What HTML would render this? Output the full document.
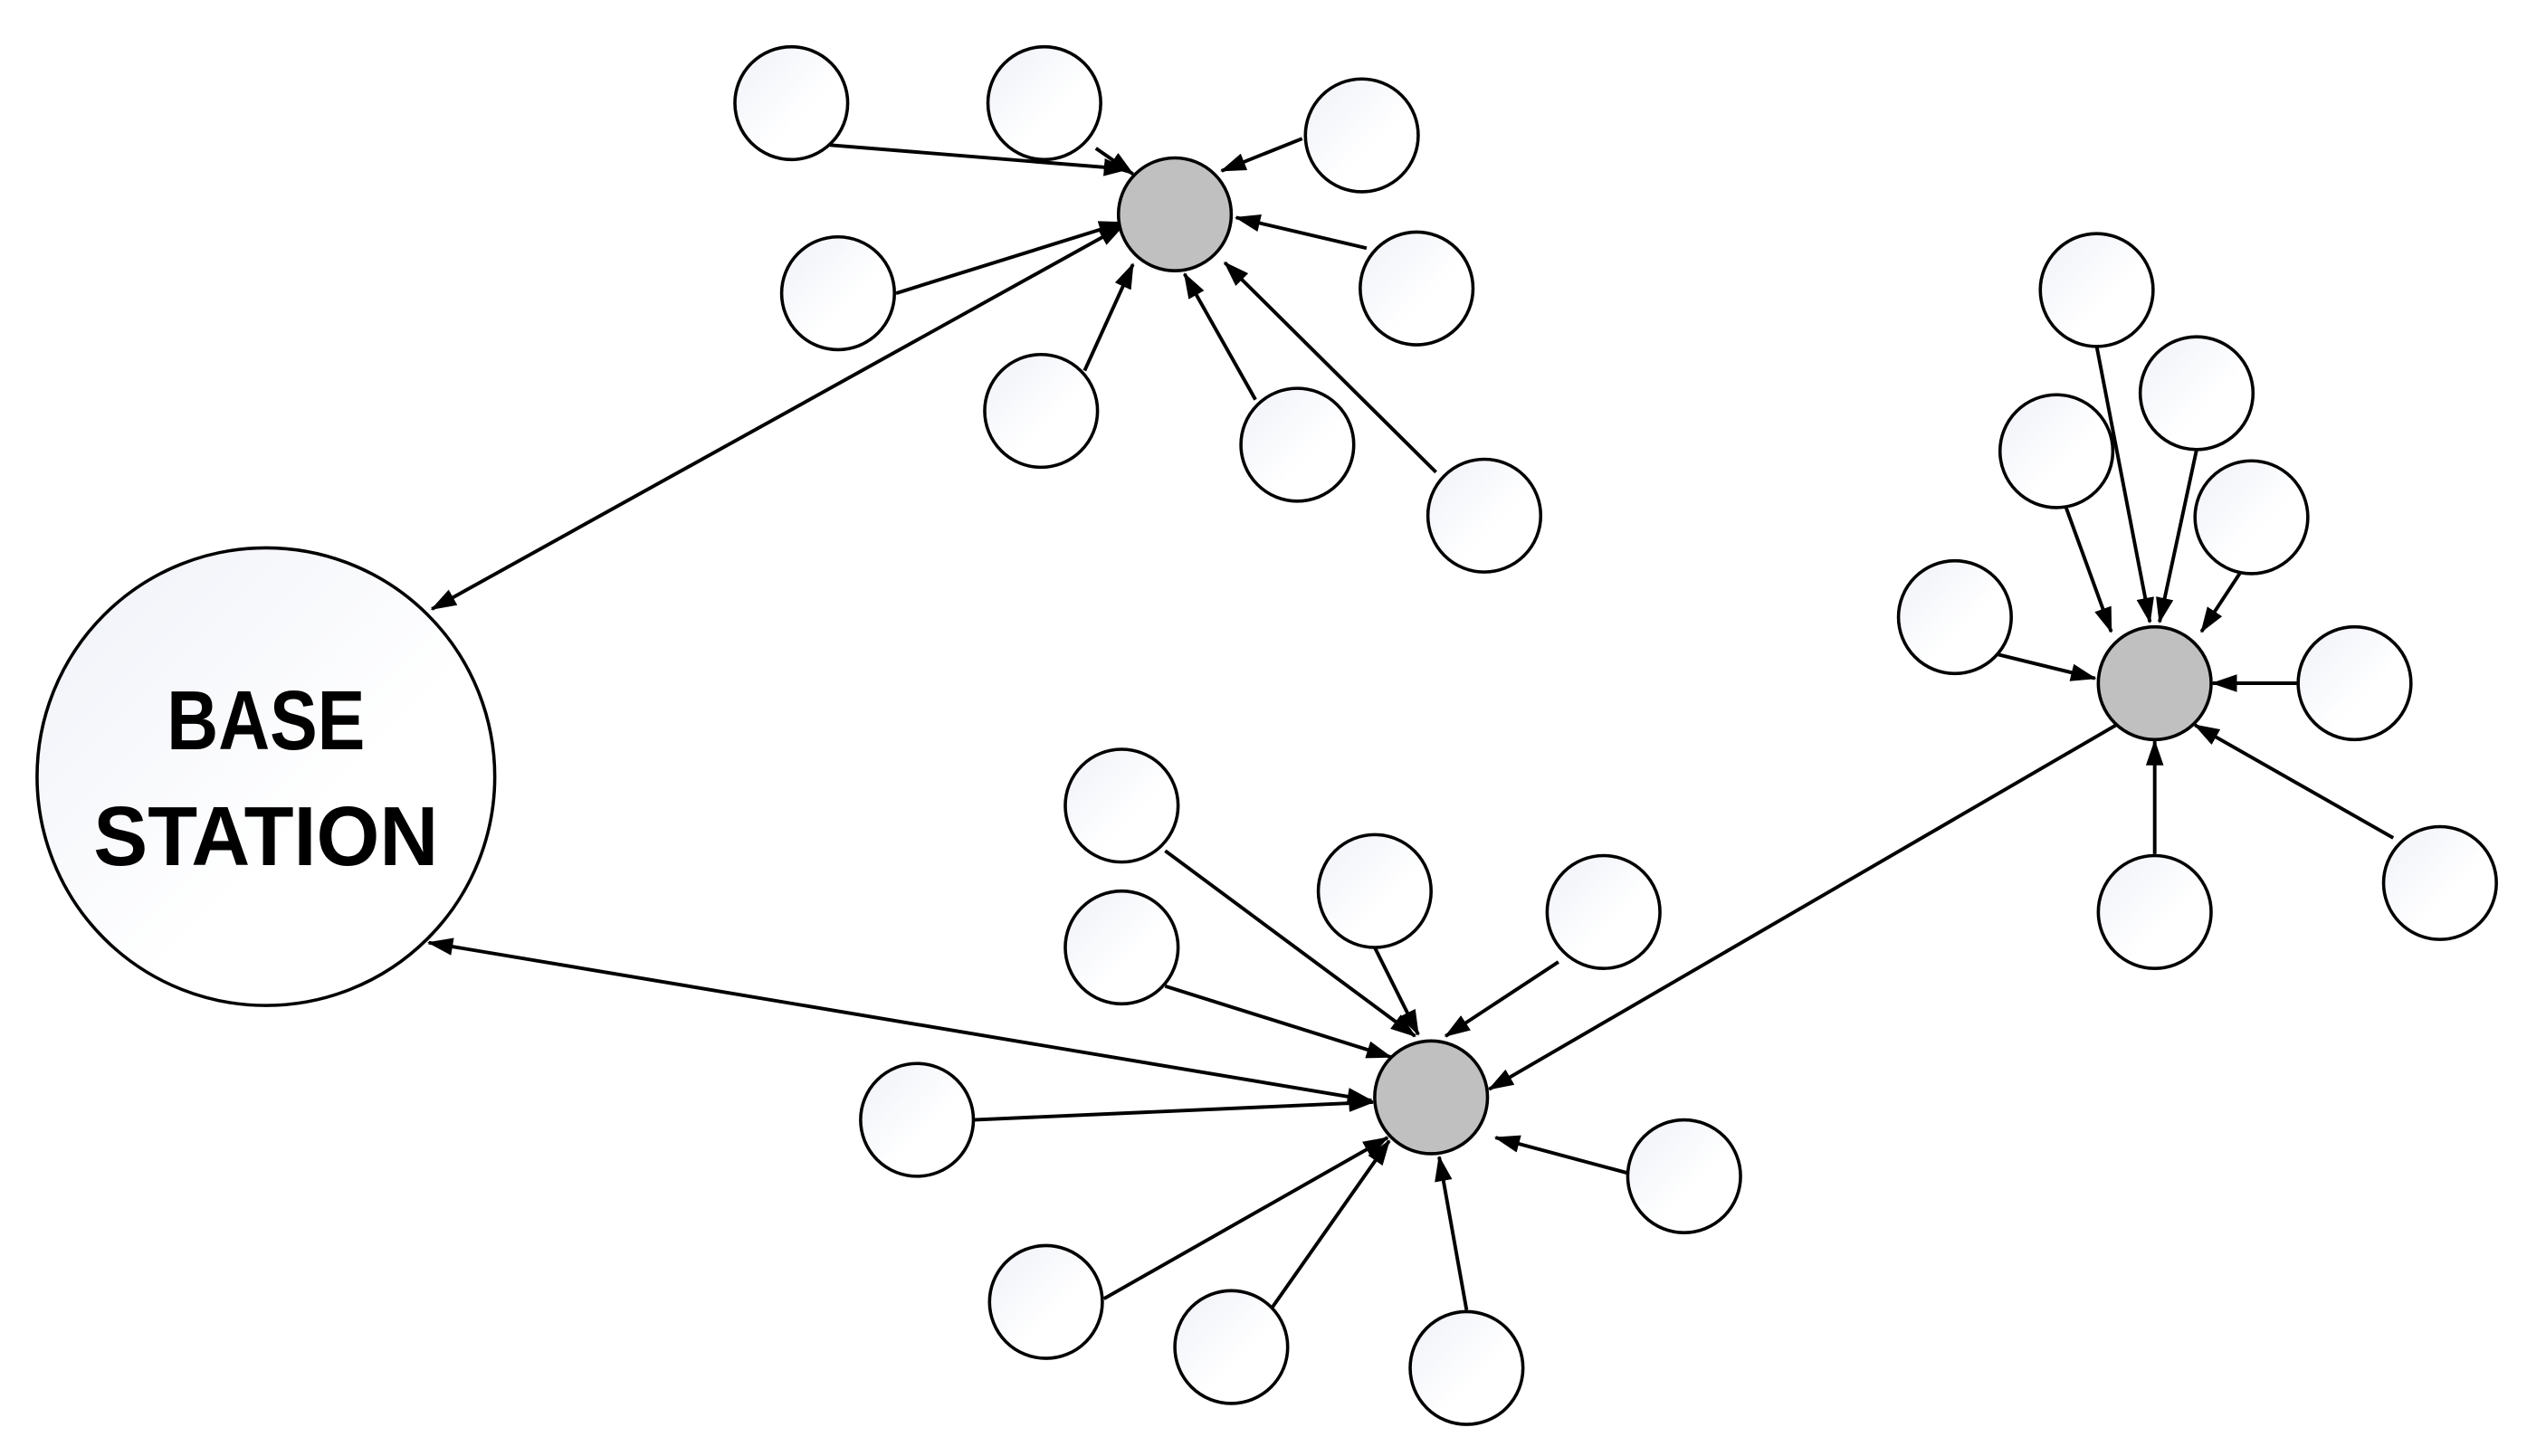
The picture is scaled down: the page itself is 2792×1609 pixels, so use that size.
<!DOCTYPE html>
<html><head><meta charset="utf-8"><style>html,body{margin:0;padding:0;background:#fff}svg{display:block}</style></head>
<body>
<svg id="s" xmlns="http://www.w3.org/2000/svg" width="2792" height="1609" viewBox="0 0 1568 903.6">
<defs>
<linearGradient id="g" x1="0" y1="0" x2="1" y2="1"><stop offset="0" stop-color="#eef1f8"/><stop offset="0.6" stop-color="#ffffff"/><stop offset="1" stop-color="#ffffff"/></linearGradient>
<marker id="a" viewBox="0 0 16 11" refX="15" refY="5.5" markerWidth="16" markerHeight="11" markerUnits="userSpaceOnUse" orient="auto-start-reverse"><path d="M0,0 L16,5.5 L0,11 z" fill="#000"/></marker>
</defs>
<g id="lines" stroke="#000" stroke-width="2.2" fill="none"></g>
<g id="nodes" stroke="#000" stroke-width="2"></g>
<text x="165" y="465" font-family="Liberation Sans, sans-serif" font-weight="bold" font-size="52" text-anchor="middle" textLength="123" lengthAdjust="spacingAndGlyphs">BASE</text>
<text x="165" y="537" font-family="Liberation Sans, sans-serif" font-weight="bold" font-size="52" text-anchor="middle" textLength="214" lengthAdjust="spacingAndGlyphs">STATION</text>
</svg>
<script>
var NS="http://www.w3.org/2000/svg";
var L=document.getElementById('lines'),N=document.getElementById('nodes');
var r=35,R=142,base=[165,482];
var hubs=[[729,133],[1337,424],[888,681]];
var leaves=[[491,64],[648,64],[845,84],[520,182],[879,179],[646,255],[805,276],[921,320],
[1301,180],[1363,244],[1276,280],[1397,321],[1213,383],[1461,424],[1514,548],[1337,566],
[696,500],[853,553],[995,566],[696,588],[569,695],[1045,730],[649,808],[764,836],[910,849]];
var E=[
[515,90,700,105,0],[680,92,703,108,0],[808,86,758,106,0],[556,182,697,138,0],[268,378,697,140,1],
[848,154,767,135,0],[673,230,703,164,0],[779,248,735,170,0],[891,293,760,163,0],
[1301,215,1334,386,0],[1363,279,1340,386,0],[1282,315,1310,392,0],[1391,354,1366,392,0],
[1239,406,1300,421,0],[1426,424,1373,424,0],[1485,520,1362,450,0],[1337,530,1337,460,0],
[1313,450,924,676,0],
[723,528,878,643,0],[853,588,880,642,0],[967,597,897,643,0],[723,612,863,656,0],
[266,585,851,683,1],[604,695,852,684,0],[1010,728,928,706,0],[685,806,861,706,0],
[789,812,862,708,0],[910,813,893,718,0]];
E.forEach(function(e){var l=document.createElementNS(NS,'line');
l.setAttribute('x1',e[0]);l.setAttribute('y1',e[1]);l.setAttribute('x2',e[2]);l.setAttribute('y2',e[3]);
l.setAttribute('marker-end','url(#a)');if(e[4])l.setAttribute('marker-start','url(#a)');L.appendChild(l);});
function circ(c,rr,f){var e=document.createElementNS(NS,'circle');e.setAttribute('cx',c[0]);e.setAttribute('cy',c[1]);e.setAttribute('r',rr);e.setAttribute('fill',f);N.appendChild(e);}
leaves.forEach(function(p){circ(p,r,'url(#g)');});
hubs.forEach(function(p){circ(p,r,'#c0c0c0');});
circ(base,R,'url(#g)');
</script>
</body></html>
